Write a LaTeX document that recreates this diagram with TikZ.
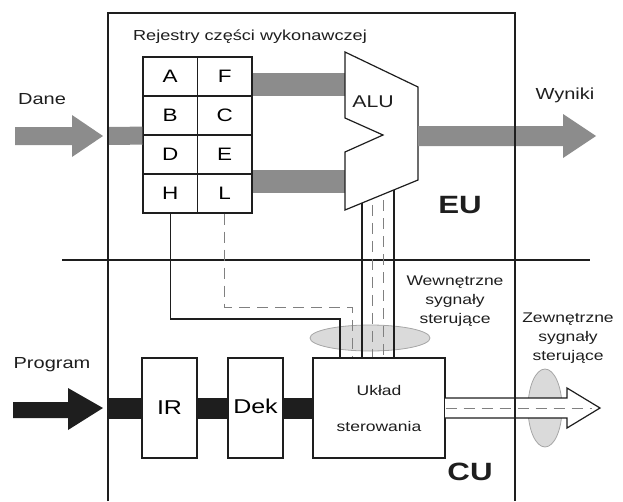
\documentclass[tikz,border=0pt]{standalone}
\usepackage{fontspec}
\setmainfont{Liberation Sans}[FakeStretch=1.25]
\usetikzlibrary{calc}
\definecolor{bus}{HTML}{8C8C8C}
\definecolor{sig}{HTML}{DADADA}
\definecolor{ink}{HTML}{1E1E1E}
\tikzset{
  blk/.style={x=1pt,y=-1pt,line width=1.2pt,draw=ink},
  reg/.style={draw=ink,minimum width=54.5pt,minimum height=39pt,inner sep=0pt,font=\fontsize{18}{20}\selectfont},
  box/.style={draw=ink,fill=white,minimum width=55pt,minimum height=100pt,inner sep=0pt,font=\fontsize{20}{22}\selectfont},
  lbl/.style={font=\fontsize{16}{18}\selectfont,text=ink,inner sep=0pt},
  sml/.style={font=\fontsize{14}{19}\selectfont,align=center,text=ink,inner sep=0pt},
  big/.style={font=\fontsize{25}{28}\selectfont\bfseries,text=ink},
  wide/.style={line width=23pt,bus},
  prog/.style={line width=21pt,ink},
  oval/.style={fill=sig,draw=gray!70,line width=.8pt},
  dsh/.style={line width=.9pt,dash pattern=on 11pt off 7pt},
}

\begin{document}
\begin{tikzpicture}[blk]
  \useasboundingbox (0,0) rectangle (623,501);
  \draw[oval] (370,338) ellipse [x radius=60,y radius=13];
  \draw[oval] (545,408) ellipse [x radius=17,y radius=39];
  % EU
  \node[lbl,font=\fontsize{14.5}{16}\selectfont] (rej) at (250,37) {Rejestry części wykonawczej};
  \foreach \l/\r [count=\i from 0] in {A/F,B/C,D/E,H/L}{
    \node[reg] (\l) at (170.25,76.5+39*\i) {\l};
    \node[reg] (\r) at (224.75,76.5+39*\i) {\r};}
  \fill[bus] (15,127)--(72,127)--(72,115)--(103,136)--(72,157)--(72,145)--(15,145)--cycle;
  \node[lbl] (dane) at (42,99) {Dane};
  \draw[wide,line width=18pt] (108,136) -- (B.south west);
  \draw[wide] ([yshift=-8pt]F.east) -- ++(98,0);
  \draw[wide] ([yshift=12pt]L.east) -- ++(98,0);
  \draw[fill=white] (345,52)--(418,87)--(418,180)--(345,210)--(345,152)--(383,135)--(345,118)--cycle;
  \coordinate (alubl) at (345,210);
  \coordinate (alubr) at (418,180);
  \node[lbl,font=\fontsize{17}{19}\selectfont] (alu) at (373,102) {ALU};
  \fill[bus] (418,126)--(563,126)--(563,114)--(596,136)--(563,158)--(563,146)--(418,146)--cycle;
  \node[lbl] (wyn) at (565,95) {Wyniki};
  \node[big] (eu) at (460,205) {EU};
  \draw (62,260) -- (590,260);
  % CU
  \node[box] (IR) at (169.5,408) {IR};
  \node[box] (Dek) at (255.5,408) {\raisebox{4pt}{Dek}};
  \node[draw=ink,fill=white,minimum width=132pt,minimum height=100pt,sml] (ctrl) at (379,408) {Układ\\[17pt]sterowania};
  \fill[ink] (13,402)--(68,402)--(68,388)--(103,408)--(68,430)--(68,418)--(13,418)--cycle;
  \node[lbl] (prg) at (52,365) {Program};
  \draw[prog] (108,408) -- (IR);
  \draw[prog] (IR) -- (Dek);
  \draw[prog] (Dek) -- (ctrl);
  \draw[fill=white] (445,398)--(567,398)--(567,388)--(600,408)--(567,428)--(567,418)--(445,418);
  \draw[dsh,gray] (ctrl.east) -- (592,408);
  \node[big] (cu) at (470,472) {CU};
  % control lines
  \coordinate (hbend) at (340,319);
  \coordinate (lbend) at (352,307);
  \draw (H.south) |- (hbend) -- (hbend |- ctrl.north);
  \draw[dsh,gray] (L.south) |- (lbend) -- (lbend |- ctrl.north);
  \foreach \t/\s in {0.233/solid,0.671/solid}
    \draw[\s] ($(alubl)!\t!(alubr)$) coordinate (b) -- (b |- ctrl.north);
  \foreach \t in {0.37,0.52}
    \draw[dsh,gray] ($(alubl)!\t!(alubr)+(0,6)$) coordinate (b) -- (b |- ctrl.north);
  \node[sml] (wew) at (455,301) {Wewnętrzne\\sygnały\\sterujące};
  \node[sml] (zew) at (568,338) {Zewnętrzne\\sygnały\\sterujące};
  \draw (108,501) -- (108,13) -- (515,13) -- (515,501);
\end{tikzpicture}
\end{document}
